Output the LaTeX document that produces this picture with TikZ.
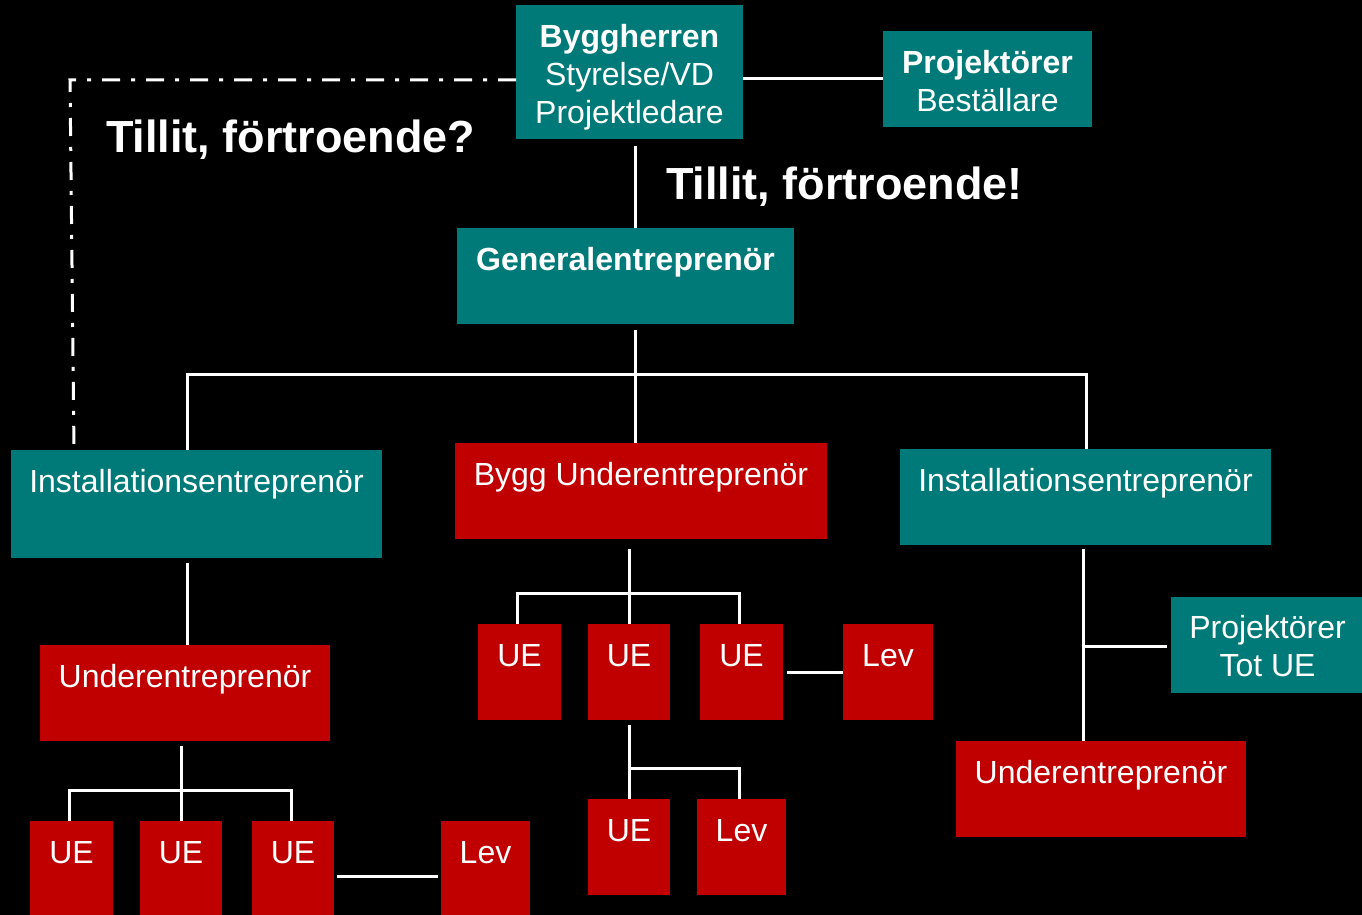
\documentclass[tikz,border=0pt]{standalone}
\usepackage{fontspec}
\setmainfont{Liberation Sans}
\usetikzlibrary{calc}
\definecolor{tealbg}{RGB}{0,122,120}
\definecolor{redbg}{RGB}{192,0,0}
\newcommand\mkbox[6]{\node[#2, minimum width={#5-#3}, minimum height={#6-#4}] (#1) at ({(#3+#5)/2},{(#4+#6)/2}) {};}
\begin{document}
\begin{tikzpicture}[x=1pt,y=-1pt,
  box/.style={draw=none, inner sep=0pt, outer sep=0pt},
  tealbox/.style={box, fill=tealbg},
  redbox/.style={box, fill=redbg},
  txt/.style={text=white, inner sep=0pt, font=\fontsize{32}{38}\selectfont, align=center},
  big/.style={text=white, inner sep=0pt, font=\fontsize{45}{52}\selectfont\bfseries},
  conn/.style={draw=white, line width=3pt},
  dd/.style={draw=white, line width=3pt, dash pattern=on 18pt off 11pt on 4pt off 11pt}]
\useasboundingbox (0,0) rectangle (1362,915);
\clip (0,0) rectangle (1362,915);
\fill[black] (0,0) rectangle (1362,915);

% boxes
\mkbox{bh}{tealbox}{516}{5}{743}{139}
\mkbox{proj}{tealbox}{883}{31}{1092}{127}
\mkbox{ge}{tealbox}{457}{228}{794}{324}
\mkbox{inl}{tealbox}{11}{450}{382}{558}
\mkbox{bue}{redbox}{455}{443}{827}{539}
\mkbox{inr}{tealbox}{900}{449}{1271}{545}
\mkbox{uel}{redbox}{40}{645}{330}{741}
\mkbox{uem1}{redbox}{478}{624}{561}{720}
\mkbox{uem2}{redbox}{588}{624}{670}{720}
\mkbox{uem3}{redbox}{700}{624}{783}{720}
\mkbox{levm}{redbox}{843}{624}{933}{720}
\mkbox{ued}{redbox}{588}{799}{670}{895}
\mkbox{levd}{redbox}{697}{799}{786}{895}
\mkbox{tot}{tealbox}{1171}{597}{1366}{693}
\mkbox{uer}{redbox}{956}{741}{1246}{837}
\mkbox{ueb1}{redbox}{30}{821}{113}{917}
\mkbox{ueb2}{redbox}{140}{821}{222}{917}
\mkbox{ueb3}{redbox}{252}{821}{334}{917}
\mkbox{levb}{redbox}{441}{821}{530}{917}

% texts
\node[txt] (bh-t) at ($(bh.center)+(0,5)$) {\textbf{Byggherren}\\Styrelse/VD\\Projektledare};
\node[txt] (proj-t) at ($(proj.center)+(0,2)$) {\textbf{Projektörer}\\Beställare};
\node[txt] (tot-t) at ($(tot.center)+(-1,1)$) {Projektörer\\Tot UE};
\node[txt, anchor=base] (ge-t) at ($(ge.north)+(0,42)$) {\textbf{Generalentreprenör}};
\node[txt, anchor=base] (inl-t) at ($(inl.north)+(0,42)$) {Installationsentreprenör};
\node[txt, anchor=base] (bue-t) at ($(bue.north)+(0,42)$) {Bygg Underentreprenör};
\node[txt, anchor=base] (inr-t) at ($(inr.north)+(0,42)$) {Installationsentreprenör};
\node[txt, anchor=base] (uel-t) at ($(uel.north)+(0,42)$) {Underentreprenör};
\node[txt, anchor=base] (uer-t) at ($(uer.north)+(0,42)$) {Underentreprenör};
\foreach \n/\t in {uem1/UE,uem2/UE,uem3/UE,levm/Lev,ued/UE,levd/Lev,ueb1/UE,ueb2/UE,ueb3/UE,levb/Lev}
  \node[txt, anchor=base] (\n-t) at ($(\n.north)+(0,42)$) {\t};

\node[big, anchor=base west] (q1) at (106,153) {Tillit, förtroende?};
\node[big, anchor=base west] (q2) at (666,199) {Tillit, förtroende!};

% junction coordinates
\coordinate (x1) at (635,0);
\coordinate (hl) at (187,374);
\coordinate (hr) at (1086,374);
\coordinate (dc) at (70,80);
\coordinate (dx) at (74,0);
\coordinate (jl) at (181,790);
\coordinate (jl1) at (69,790);
\coordinate (jl3) at (291,790);
\coordinate (jb) at (0,876);
\coordinate (jm) at (629,593);
\coordinate (jm1) at (517,593);
\coordinate (jm3) at (739,593);
\coordinate (jd) at (629,768);
\coordinate (jd2) at (739,768);
\coordinate (jr) at (1083,646);

% connectors
\draw[conn] ($(bh.south-|x1)+(0,7)$) -- (ge.north-|x1);
\draw[conn] (bh.east|-proj.west) -- (proj.west);
\draw[conn] ($(ge.south-|x1)+(0,6)$) -- (bue.north-|x1);
\draw[conn] (inl.north-|hl) -- (hl) -- (hr) -- (inr.north-|hr);
\draw[dd] (bh.west|-dc) -- (dc) -- (inl.north-|dx);
\draw[conn] ($(inl.south-|hl)+(0,5)$) -- (uel.north-|hl);
\draw[conn] ($(uel.south-|jl)+(0,5)$) -- (ueb2.north-|jl);
\draw[conn] (ueb1.north-|jl1) -- (jl1) -- (jl3) -- (ueb3.north-|jl3);
\draw[conn] ($(ueb3.east|-jb)+(3,0)$) -- ($(levb.west|-jb)+(-3,0)$);
\draw[conn] ($(bue.south-|jm)+(0,10)$) -- (uem2.north-|jm);
\draw[conn] (uem1.north-|jm1) -- (jm1) -- (jm3) -- (uem3.north-|jm3);
\draw[conn] ($(uem3.east)+(4,0)$) -- (levm.west);
\draw[conn] ($(uem2.south-|jd)+(0,5)$) -- (ued.north-|jd);
\draw[conn] (jd) -- (jd2) -- (levd.north-|jd2);
\draw[conn] ($(inr.south-|jr)+(0,4)$) -- (uer.north-|jr);
\draw[conn] (jr) -- ($(tot.west|-jr)+(-4,0)$);
\end{tikzpicture}
\end{document}
